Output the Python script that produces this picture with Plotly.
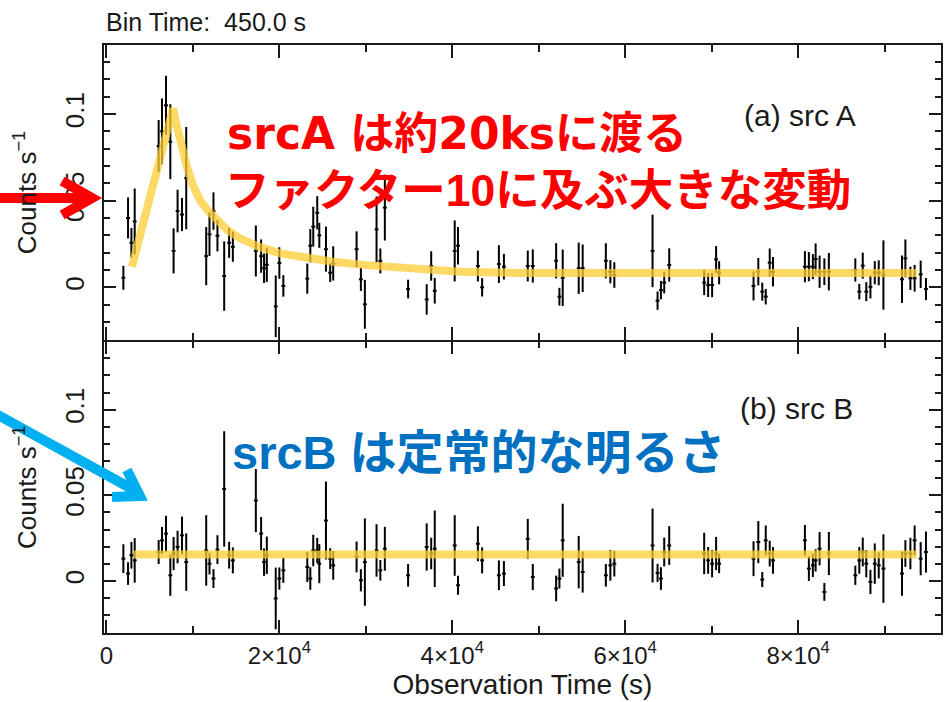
import plotly.graph_objects as go

# ---- light-curve data (450 s bins), shared time grid for both sources ----
time_s = [
    1960, 2500, 2890, 3270,
    6040, 6430, 6890, 7390, 7770, 8230, 8740, 9230,
    11540, 11920, 12380, 12840, 13620, 14190, 14620,
    17280, 17890, 18230, 18550, 19580, 20000, 20460,
    23230, 23580, 23920, 24380, 24620, 25390, 25880, 26230,
    28930, 29430, 29890, 31240, 31680, 32200,
    34890, 37040, 37560, 37970,
    40280, 40660,
    42960, 43450,
    45390, 45970,
    48730, 49310,
    52010, 52390, 52770,
    54620, 55080,
    57760, 58280, 58740,
    63160, 63740, 64130, 64510, 65090,
    69130, 69590, 70050, 70510, 70860,
    74840, 75390, 75850, 76250, 76710, 77090,
    80780, 81240, 81700, 82020, 82480, 83030, 83550,
    86610, 87070, 87470, 87880, 88360, 88860, 89320, 89860,
    92010, 92400, 92980, 93470, 94170, 94780,
]

rate_a = [
    0.0055, 0.040, 0.0257, 0.038,
    0.0815, 0.090, 0.105, 0.084, 0.021, 0.044, 0.042, 0.063,
    0.018, 0.0306, 0.044, 0.0298, 0.0065, 0.0257, 0.0234,
    0.021, 0.018, 0.011, 0.013, -0.011, 0.014, 0.0008,
    0.005, 0.024, 0.035, 0.043, 0.030, 0.022, 0.0084, 0.0138,
    0.022, 0.0046, -0.0098, 0.0334, 0.0152, 0.046,
    -0.001, -0.007, 0.0123, -0.002,
    0.021, 0.024,
    0.0123, 0.0,
    0.0134, 0.0119,
    0.0123, 0.0123,
    0.0153, -0.0054, 0.0055,
    0.011, 0.011,
    0.0153, 0.009, 0.0071,
    0.021, -0.0077, -0.0016, 0.0027, 0.0129,
    0.0027, 0.0013, 0.0013, 0.0161, 0.0084,
    0.0008, 0.009, -0.0025, -0.0054, 0.0142, 0.009,
    0.0119, 0.0119, 0.0119, 0.0163, 0.009, 0.009, 0.009,
    0.010, -0.0025, 0.0125, -0.0025, 0.0003, 0.0084, 0.0084, 0.0071,
    0.0046, 0.0167, 0.0052, 0.0052, 0.0075, -0.001,
]

err_a = [
    0.0069, 0.0118, 0.0085, 0.019,
    0.015, 0.019, 0.017, 0.0216, 0.013, 0.0123, 0.0096, 0.0295,
    0.0168, 0.0125, 0.0108, 0.0091, 0.020, 0.0087, 0.0087,
    0.0147, 0.0096, 0.0085, 0.0099, 0.0178, 0.0091, 0.0062,
    0.0087, 0.0096, 0.0115, 0.0096, 0.0072, 0.013, 0.0053, 0.0099,
    0.0103, 0.0067, 0.0141, 0.019, 0.0072, 0.019,
    0.0054, 0.0088, 0.0085, 0.0074,
    0.0176, 0.0108,
    0.0089, 0.0053,
    0.0109, 0.0074,
    0.0089, 0.0096,
    0.0102, 0.0051, 0.0163,
    0.0148, 0.0137,
    0.0101, 0.0067, 0.0074,
    0.0209, 0.0053, 0.0053, 0.0062, 0.0096,
    0.0072, 0.0069, 0.0070, 0.0077, 0.0067,
    0.0084, 0.0079, 0.0052, 0.0045, 0.0082, 0.0085,
    0.0090, 0.0084, 0.0072, 0.0090, 0.0093, 0.0077, 0.0108,
    0.0067, 0.0045, 0.0075, 0.0055, 0.0067, 0.0067, 0.0072, 0.020,
    0.0137, 0.0109, 0.0067, 0.0077, 0.0079, 0.0064,
]

rate_b = [
    0.013, 0.0043, 0.015, 0.012,
    0.0169, 0.0237, 0.0276, 0.0033, 0.016, 0.0198, 0.0266, 0.011,
    0.0178, 0.0101, 0.0014, 0.0183, 0.0537, 0.015, 0.012,
    0.0469, 0.0276, 0.011, 0.015, -0.0102, 0.0014, 0.0062,
    0.0081, 0.0014, 0.0178, 0.0178, 0.0101, 0.0353, 0.013, 0.0091,
    0.014, 0.0004, 0.011, 0.0178, 0.0062, 0.0188,
    0.0033, 0.0198, 0.016, 0.0188,
    0.0207, -0.0025,
    0.0217, 0.012,
    0.0033, 0.0043,
    0.0246, 0.0023,
    -0.0044, 0.0014, 0.0237,
    0.011, 0.0052,
    0.0033, 0.0091, 0.0101,
    0.0207, 0.0047, 0.0014, 0.0169, 0.0207,
    0.016, 0.012, 0.0101, 0.016, 0.0101,
    0.013, 0.0227, 0.0008, 0.0237, 0.016, 0.012,
    0.0237, 0.0072, 0.0091, 0.012, 0.0188, -0.0064, 0.016,
    0.0033, 0.012, 0.0169, 0.0101, -0.0006, 0.0101, 0.0091, 0.0072,
    0.0043, 0.016, 0.016, 0.0237, 0.013, 0.0169,
]

err_b = [
    0.0084, 0.0066, 0.0078, 0.013,
    0.0070, 0.0078, 0.0105, 0.012, 0.0097, 0.0095, 0.011, 0.0168,
    0.0206, 0.0063, 0.0055, 0.0084, 0.0337, 0.0078, 0.0076,
    0.0184, 0.0097, 0.0080, 0.0109, 0.018, 0.0065, 0.0073,
    0.0087, 0.0066, 0.0092, 0.0073, 0.0114, 0.0228, 0.0061, 0.0084,
    0.0090, 0.0065, 0.0255, 0.0153, 0.0060, 0.0128,
    0.0066, 0.0138, 0.0092, 0.0223,
    0.0177, 0.0055,
    0.0102, 0.0076,
    0.0087, 0.0073,
    0.0116, 0.0076,
    0.0075, 0.0058, 0.0213,
    0.0153, 0.012,
    0.0066, 0.0090, 0.0075,
    0.0216, 0.0053, 0.0066, 0.0084, 0.0113,
    0.0121, 0.0078, 0.0080, 0.0097, 0.0056,
    0.0102, 0.0123, 0.0044, 0.0087, 0.0075, 0.0078,
    0.0090, 0.0072, 0.0068, 0.0065, 0.0097, 0.0052, 0.0126,
    0.0056, 0.0078, 0.0084, 0.0080, 0.0071, 0.0118, 0.0076, 0.020,
    0.0129, 0.0078, 0.0092, 0.0087, 0.0097, 0.012,
]

bin_half_width = 225  # half of the 450 s bin

# ---- best-fit model curves ----
model_a_time = [2950, 7700, 8100, 8600, 9310, 10000, 10850, 11800, 12770, 14000, 15460,
                17500, 20080, 23000, 26200, 30000, 33930, 41000, 48000, 93700]
model_a_rate = [0.0119, 0.1032, 0.094, 0.083, 0.0696, 0.059, 0.050, 0.044, 0.0388, 0.033, 0.0283,
                0.0236, 0.0196, 0.0168, 0.0148, 0.0128, 0.0112, 0.0090, 0.0082, 0.0082]
model_b_time = [3150, 93700]
model_b_rate = [0.0155, 0.0155]

# ---- axis ticks ----
x_tickvals = [0, 20000, 40000, 60000, 80000]
x_ticktext = ["0", "2×10<sup>4</sup>", "4×10<sup>4</sup>", "6×10<sup>4</sup>", "8×10<sup>4</sup>"]
y_tickvals = [0, 0.05, 0.1]
y_ticktext = ["0", "0.05", "0.1"]

# ---- page geometry ----
W, H = 944, 702
ML, MR, MT, MB = 104, 1, 45, 69
PW, PH = W - ML - MR, H - MT - MB
LW = 1.5  # frame line width
split = 293 / PH  # boundary between the two panels


def fx(px):
    return (px - ML) / PW


def fy(py):
    return (H - MB - py) / PH


AX_FONT = "Liberation Sans, Arial, sans-serif"
JP_FONT = "Liberation Sans, Arial, Noto Sans CJK JP, sans-serif"
JP_FONT_WIDE = "DejaVu Sans, Noto Sans CJK JP, sans-serif"
INK = "#1a1a1a"
MODEL_COLOR = "rgba(255, 204, 51, 0.75)"

fig = go.Figure()

for rate, err, xa, ya in [(rate_a, err_a, "x", "y"), (rate_b, err_b, "x2", "y2")]:
    fig.add_trace(go.Scatter(
        x=time_s, y=rate, mode="markers", xaxis=xa, yaxis=ya,
        marker=dict(size=1, color="black", opacity=0),
        error_x=dict(type="constant", value=bin_half_width, width=0, thickness=2, color="black"),
        error_y=dict(type="data", array=err, width=0, thickness=2, color="black"),
        showlegend=False, hoverinfo="skip",
    ))

fig.add_trace(go.Scatter(x=model_a_time, y=model_a_rate, mode="lines", xaxis="x", yaxis="y",
                         line=dict(color=MODEL_COLOR, width=8), showlegend=False))
fig.add_trace(go.Scatter(x=model_b_time, y=model_b_rate, mode="lines", xaxis="x2", yaxis="y2",
                         line=dict(color=MODEL_COLOR, width=8), showlegend=False))

x_range = [-280, 96520]
y_range = [-0.0304, 0.1398]

common_x = dict(
    range=x_range, tickvals=x_tickvals, ticktext=x_ticktext,
    ticks="inside", ticklen=13, tickwidth=1.5, tickcolor=INK,
    showline=True, linewidth=LW, linecolor=INK, mirror="ticks",
    showgrid=False, zeroline=False,
    minor=dict(tickmode="linear", tick0=0, dtick=10000, ticks="inside", ticklen=7,
               tickwidth=1.5, tickcolor=INK, showgrid=False),
    tickfont=dict(family=AX_FONT, size=24, color=INK),
)
common_y = dict(
    range=y_range, tickvals=y_tickvals, ticktext=y_ticktext, tickangle=-90,
    ticks="inside", ticklen=12, tickwidth=1.5, tickcolor=INK,
    showline=True, linewidth=LW, linecolor=INK, mirror="ticks",
    showgrid=False, zeroline=False,
    minor=dict(tickmode="linear", tick0=0, dtick=0.01, ticks="inside", ticklen=6,
               tickwidth=1.5, tickcolor=INK, showgrid=False),
    tickfont=dict(family=AX_FONT, size=26, color=INK),
    ticklabelstandoff=8,
    title=dict(text="Counts s<sup>−1</sup>", font=dict(family=AX_FONT, size=26, color=INK), standoff=16),
)

fig.update_layout(
    width=W, height=H,
    margin=dict(l=ML, r=MR, t=MT, b=MB),
    paper_bgcolor="white", plot_bgcolor="white",
    xaxis=dict(common_x, anchor="y", domain=[0, 1], showticklabels=False),
    xaxis2=dict(common_x, anchor="y2", domain=[0, 1], matches="x",
                title=dict(text="Observation Time (s)", font=dict(family=AX_FONT, size=28, color=INK), standoff=4)),
    yaxis=dict(common_y, anchor="x", domain=[split, 1]),
    # lower panel tucked under the upper one so the shared frame edge is a single line
    yaxis2=dict(common_y, anchor="x2", domain=[0, split - LW / PH]),
)

annotations = [
    dict(text="Bin Time:\u00a0 450.0 s", x=fx(104), y=fy(22), font=dict(family=AX_FONT, size=25, color=INK)),
    dict(text="(a) src A", x=fx(744), y=fy(115), font=dict(family=AX_FONT, size=30, color=INK)),
    dict(text="(b) src B", x=fx(740), y=fy(408), font=dict(family=AX_FONT, size=30, color=INK)),
    dict(text="<b>srcA は約20ksに渡る</b>", x=fx(225), y=fy(133), font=dict(family=JP_FONT_WIDE, size=44, color="#ff0000")),
    dict(text="<b>ファクター10に及ぶ大きな変動</b>", x=fx(223), y=fy(190), font=dict(family=JP_FONT, size=44.5, color="#ff0000")),
    dict(text="<b>srcB は定常的な明るさ</b>", x=fx(230), y=fy(452), font=dict(family=JP_FONT, size=47, color="#0070c0")),
]
for a in annotations:
    a.update(xref="paper", yref="paper", xanchor="left", yanchor="middle", showarrow=False)
fig.update_layout(annotations=annotations)


def path(points_groups):
    parts = []
    for grp in points_groups:
        for i, (px, py) in enumerate(grp):
            parts.append(("M" if i == 0 else "L") + f"{fx(px):.5f},{fy(py):.5f}")
    return " ".join(parts)


# pointer arrows (open chevron heads)
red_arrow = path([[(-6, 198), (88, 198)], [(62, 181), (92, 198), (62, 215)]])
blue_arrow = path([[(-6, 413), (134, 490)], [(127, 470), (140, 496), (112, 497)]])
fig.update_layout(shapes=[
    dict(type="path", path=red_arrow, xref="paper", yref="paper", line=dict(color="#ff0000", width=10)),
    dict(type="path", path=blue_arrow, xref="paper", yref="paper", line=dict(color="#00b0f0", width=10)),
])

fig.write_html("out.html")
